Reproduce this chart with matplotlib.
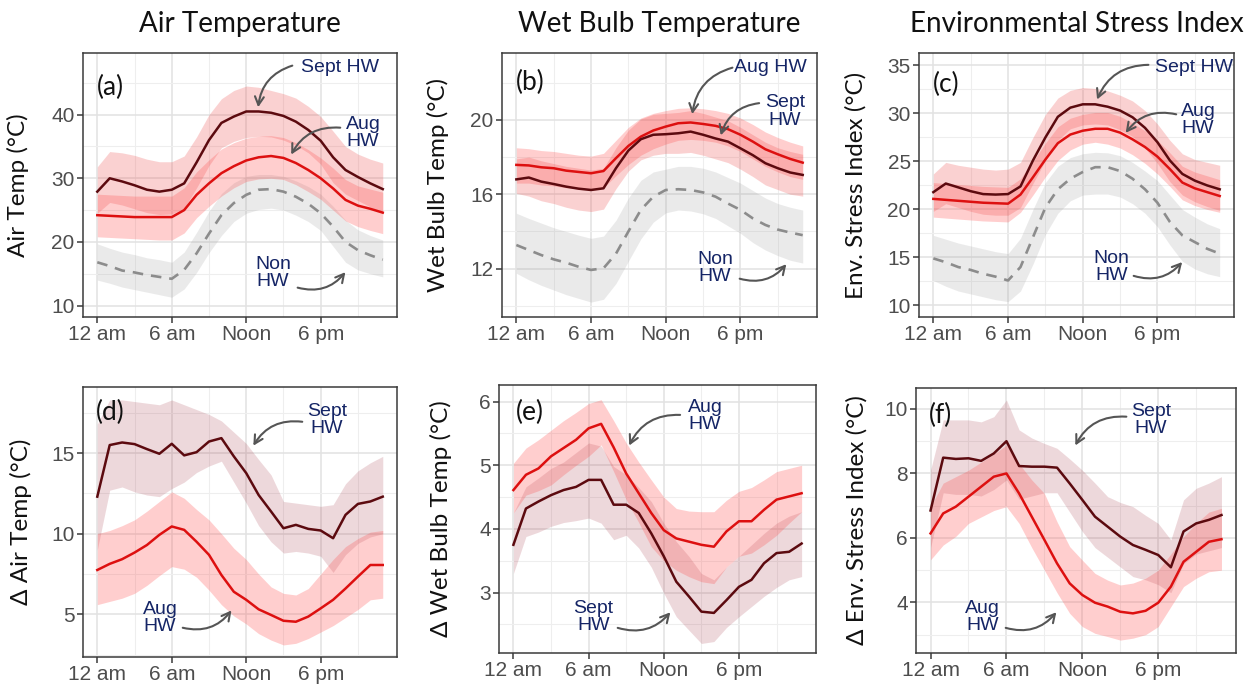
import matplotlib
matplotlib.use("Agg")
import matplotlib.pyplot as plt
from matplotlib.ticker import MultipleLocator, FixedLocator

# ---------------- data (hourly, 0..23) ----------------
hours = list(range(24))
xtick_pos = [0, 6, 12, 18]
xtick_labels = ["12 am", "6 am", "Noon", "6 pm"]

col_titles = ["Air Temperature", "Wet Bulb Temperature", "Environmental Stress Index"]
ylabels = ["Air Temp (°C)", "Wet Bulb Temp (°C)", "Env. Stress Index (°C)",
           "Δ Air Temp (°C)", "Δ Wet Bulb Temp (°C)", "Δ Env. Stress Index (°C)"]
panel_tags = ["(a)", "(b)", "(c)", "(d)", "(e)", "(f)"]

# (a) Air temperature
a_sept = [27.9, 30.0, 29.5, 28.9, 28.2, 27.9, 28.2, 29.2, 32.5, 36.0, 38.7, 39.7, 40.5, 40.5, 40.3, 39.8, 38.9, 37.6, 35.9, 33.3, 31.3, 30.2, 29.2, 28.3]
a_sept_hi = [31.8, 34.2, 34.0, 33.6, 33.0, 32.6, 32.6, 33.5, 36.5, 40.0, 42.5, 43.8, 44.5, 44.3, 43.8, 43.3, 42.6, 41.3, 39.7, 37.4, 35.0, 33.8, 33.0, 32.4]
a_sept_lo = [24.5, 26.2, 25.8, 25.2, 24.6, 24.3, 24.4, 25.3, 28.5, 32.0, 34.8, 35.8, 36.4, 36.6, 36.5, 36.0, 35.2, 34.0, 32.2, 29.3, 27.5, 26.5, 25.5, 24.5]
a_aug = [24.2, 24.1, 24.0, 23.9, 23.9, 23.9, 23.9, 25.0, 27.4, 29.2, 30.8, 31.9, 32.8, 33.3, 33.5, 33.2, 32.4, 31.3, 30.0, 28.4, 26.6, 25.7, 25.2, 24.6]
a_aug_hi = [27.5, 27.4, 27.3, 27.2, 27.2, 27.2, 27.2, 28.5, 31.0, 32.9, 34.6, 35.6, 36.3, 36.6, 36.7, 36.4, 35.6, 34.5, 33.2, 31.6, 29.8, 28.8, 28.3, 27.8]
a_aug_lo = [20.8, 20.7, 20.6, 20.5, 20.4, 20.3, 20.3, 21.4, 23.8, 25.6, 27.2, 28.5, 29.5, 29.9, 30.0, 29.8, 29.0, 27.9, 26.7, 25.0, 23.3, 22.4, 21.8, 21.3]
a_non = [16.8, 16.2, 15.5, 15.2, 14.8, 14.5, 14.2, 15.6, 18.2, 21.3, 24.2, 26.1, 27.4, 28.2, 28.3, 27.9, 27.1, 26.0, 24.5, 22.4, 20.0, 18.7, 17.9, 17.2]
a_non_hi = [19.7, 19.0, 18.4, 18.0, 17.5, 17.2, 16.8, 18.4, 21.5, 24.8, 27.6, 29.3, 30.3, 30.6, 30.6, 30.3, 29.6, 28.7, 27.5, 25.6, 23.4, 21.9, 21.0, 20.3]
a_non_lo = [14.0, 13.5, 12.9, 12.5, 12.1, 11.7, 11.3, 12.6, 15.2, 18.3, 21.0, 23.2, 24.5, 25.1, 25.3, 25.0, 24.2, 23.2, 21.8, 19.3, 16.8, 15.6, 15.0, 14.5]

# (b) Wet bulb temperature
b_aug = [17.58, 17.55, 17.45, 17.4, 17.27, 17.2, 17.13, 17.25, 17.94, 18.6, 19.1, 19.43, 19.64, 19.82, 19.86, 19.78, 19.68, 19.5, 19.2, 18.83, 18.42, 18.15, 17.9, 17.7]
b_aug_hi = [18.5, 18.45, 18.35, 18.3, 18.2, 18.1, 18.05, 18.2, 18.9, 19.6, 20.1, 20.35, 20.5, 20.62, 20.65, 20.6, 20.5, 20.35, 20.1, 19.75, 19.35, 19.05, 18.8, 18.6]
b_aug_lo = [16.6, 16.6, 16.5, 16.45, 16.35, 16.3, 16.25, 16.35, 17.0, 17.6, 18.1, 18.45, 18.7, 18.9, 18.95, 18.9, 18.8, 18.6, 18.3, 17.9, 17.5, 17.2, 16.95, 16.8]
b_sept = [16.8, 16.9, 16.68, 16.55, 16.41, 16.3, 16.23, 16.32, 17.4, 18.35, 18.96, 19.2, 19.23, 19.28, 19.37, 19.2, 19.0, 18.83, 18.47, 18.1, 17.67, 17.4, 17.17, 17.04]
b_sept_hi = [17.9, 18.0, 17.8, 17.65, 17.5, 17.4, 17.3, 17.4, 18.5, 19.45, 20.05, 20.3, 20.35, 20.4, 20.5, 20.35, 20.15, 19.95, 19.6, 19.2, 18.8, 18.5, 18.3, 18.15]
b_sept_lo = [16.05, 15.9, 15.65, 15.5, 15.3, 15.15, 15.07, 15.2, 16.3, 17.25, 17.85, 18.1, 18.2, 18.2, 18.25, 18.1, 17.9, 17.7, 17.35, 16.95, 16.5, 16.25, 16.0, 15.9]
b_non = [13.27, 13.0, 12.73, 12.5, 12.32, 12.1, 11.93, 12.02, 12.8, 14.0, 15.16, 15.87, 16.23, 16.27, 16.23, 16.1, 15.87, 15.5, 15.16, 14.7, 14.35, 14.1, 13.94, 13.8]
b_non_hi = [14.98, 14.7, 14.45, 14.2, 14.0, 13.8, 13.63, 13.75, 14.6, 15.8, 16.75, 17.2, 17.35, 17.5, 17.5, 17.4, 17.2, 16.9, 16.6, 16.2, 15.8, 15.5, 15.3, 15.15]
b_non_lo = [11.75, 11.4, 11.1, 10.85, 10.6, 10.4, 10.2, 10.35, 11.2, 12.4, 13.6, 14.5, 15.0, 15.15, 15.1, 14.95, 14.7, 14.3, 13.9, 13.4, 13.0, 12.7, 12.45, 12.3]

# (c) Environmental stress index
c_sept = [21.8, 22.7, 22.3, 21.9, 21.6, 21.55, 21.6, 22.4, 25.1, 27.5, 29.65, 30.6, 30.95, 30.95, 30.7, 30.3, 29.6, 28.5, 27.0, 25.1, 23.7, 23.0, 22.5, 22.1]
c_sept_hi = [23.7, 24.9, 24.6, 24.4, 24.2, 24.1, 24.2, 24.9, 27.5, 29.9, 31.6, 32.4, 32.7, 32.6, 32.35, 31.9, 31.3, 30.3, 28.9, 27.2, 25.8, 25.2, 24.9, 24.6]
c_sept_lo = [19.8, 20.6, 20.2, 19.8, 19.5, 19.4, 19.4, 20.2, 22.7, 25.1, 27.2, 28.4, 28.8, 28.9, 28.8, 28.3, 27.6, 26.4, 24.8, 22.9, 21.5, 20.8, 20.3, 19.9]
c_aug = [21.1, 21.0, 20.9, 20.8, 20.7, 20.65, 20.6, 21.55, 23.35, 25.2, 26.9, 27.8, 28.2, 28.4, 28.4, 28.0, 27.3, 26.5, 25.5, 24.2, 22.8, 22.2, 21.8, 21.4]
c_aug_hi = [22.8, 22.7, 22.6, 22.5, 22.4, 22.35, 22.3, 23.2, 25.0, 26.9, 28.6, 29.5, 29.9, 30.1, 30.1, 29.7, 29.0, 28.2, 27.2, 25.9, 24.5, 23.9, 23.5, 23.1]
c_aug_lo = [19.2, 19.1, 19.0, 18.9, 18.8, 18.75, 18.7, 19.7, 21.5, 23.4, 25.1, 26.2, 26.8, 27.0, 26.8, 26.4, 25.7, 24.8, 23.7, 22.4, 21.0, 20.4, 20.0, 19.7]
c_non = [14.9, 14.5, 14.0, 13.7, 13.3, 13.0, 12.6, 14.0, 17.1, 20.2, 22.1, 23.2, 23.9, 24.4, 24.4, 24.0, 23.2, 22.1, 20.7, 18.7, 17.3, 16.6, 15.9, 15.4]
c_non_hi = [17.3, 16.9, 16.5, 16.2, 15.9, 15.6, 15.4, 17.0, 20.0, 22.8, 24.5, 25.4, 25.8, 25.95, 25.9, 25.6, 24.9, 24.0, 23.0, 21.5, 20.0, 19.2, 18.5, 18.0]
c_non_lo = [12.6, 12.0, 11.5, 11.2, 10.9, 10.6, 10.4, 11.5, 14.3, 17.4, 19.6, 20.9, 21.5, 21.6, 21.6, 21.3, 20.6, 19.6, 18.2, 16.3, 14.6, 13.8, 13.3, 13.0]

# (d) Delta air temperature
d_sept = [12.3, 15.5, 15.66, 15.56, 15.25, 14.96, 15.58, 14.86, 15.06, 15.72, 15.93, 14.8, 13.76, 12.4, 11.38, 10.34, 10.55, 10.3, 10.2, 9.72, 11.17, 11.85, 12.0, 12.3]
d_sept_hi = [16.8, 18.3, 18.3, 18.2, 18.1, 18.0, 18.3, 18.0, 17.7, 17.4, 17.0, 16.3, 15.6, 14.6, 13.65, 12.0, 11.9, 11.8, 11.7, 11.8, 13.1, 13.9, 14.4, 14.8]
d_sept_lo = [9.0, 12.7, 12.9, 12.6, 12.4, 12.3, 12.8, 13.2, 13.8, 14.2, 14.5, 13.2, 11.9, 10.5, 9.5, 8.8, 8.9, 8.8, 8.6, 7.6, 8.7, 9.4, 9.8, 10.0]
d_aug = [7.75, 8.13, 8.42, 8.83, 9.3, 9.93, 10.45, 10.24, 9.5, 8.69, 7.44, 6.4, 5.9, 5.31, 4.96, 4.6, 4.54, 4.86, 5.37, 5.9, 6.6, 7.34, 8.06, 8.06]
d_aug_hi = [10.0, 10.2, 10.5, 10.86, 11.4, 12.0, 12.6, 12.2, 11.5, 10.86, 10.0, 9.1, 8.4, 7.5, 6.7, 6.3, 6.2, 6.6, 7.5, 8.4, 9.2, 9.7, 10.1, 10.2]
d_aug_lo = [5.6, 5.8, 6.0, 6.3, 6.8, 7.4, 7.96, 7.8, 7.3, 6.5, 5.6, 4.9, 4.4, 3.8, 3.4, 3.1, 3.2, 3.5, 3.9, 4.3, 4.8, 5.3, 5.9, 6.0]

# (e) Delta wet bulb temperature
e_aug = [4.61, 4.85, 4.95, 5.14, 5.27, 5.4, 5.58, 5.65, 5.28, 4.87, 4.56, 4.25, 3.98, 3.85, 3.8, 3.75, 3.72, 3.96, 4.12, 4.12, 4.3, 4.46, 4.51, 4.56]
e_aug_hi = [5.03, 5.27, 5.4, 5.55, 5.7, 5.83, 5.97, 6.03, 5.7, 5.35, 5.05, 4.77, 4.5, 4.32, 4.28, 4.27, 4.27, 4.45, 4.59, 4.65, 4.77, 4.9, 4.95, 5.0]
e_aug_lo = [4.25, 4.53, 4.6, 4.69, 4.85, 5.0, 5.14, 5.32, 4.9, 4.46, 4.1, 3.72, 3.5, 3.35, 3.25, 3.17, 3.14, 3.4, 3.57, 3.62, 3.75, 3.9, 4.09, 4.27]
e_sept = [3.75, 4.32, 4.43, 4.53, 4.61, 4.66, 4.77, 4.77, 4.38, 4.38, 4.25, 3.93, 3.57, 3.17, 2.94, 2.7, 2.68, 2.88, 3.09, 3.2, 3.46, 3.62, 3.64, 3.77]
e_sept_hi = [4.25, 4.66, 4.8, 4.95, 5.05, 5.2, 5.35, 5.3, 4.98, 4.85, 4.65, 4.43, 4.09, 3.8, 3.57, 3.3, 3.2, 3.4, 3.57, 3.75, 3.93, 4.09, 4.2, 4.27]
e_sept_lo = [3.3, 3.88, 3.95, 4.04, 4.1, 4.13, 4.17, 4.09, 3.83, 3.9, 3.7, 3.4, 2.99, 2.62, 2.41, 2.2, 2.23, 2.45, 2.62, 2.78, 2.94, 3.08, 3.2, 3.25]

# (f) Delta environmental stress index
f_sept = [6.85, 8.49, 8.45, 8.47, 8.39, 8.62, 9.0, 8.23, 8.21, 8.21, 8.18, 7.69, 7.18, 6.66, 6.35, 6.04, 5.78, 5.63, 5.47, 5.09, 6.2, 6.45, 6.56, 6.71]
f_sept_hi = [8.1, 9.66, 9.66, 9.66, 9.6, 9.76, 10.28, 9.35, 9.1, 8.93, 8.78, 8.45, 8.1, 7.7, 7.28, 7.1, 6.97, 6.7, 6.45, 5.94, 7.18, 7.54, 7.7, 7.9]
f_sept_lo = [5.7, 7.4, 7.35, 7.35, 7.3, 7.5, 7.8, 7.2, 7.3, 7.4, 7.4, 6.8, 6.2, 5.7, 5.4, 5.1, 4.8, 4.7, 4.55, 4.3, 5.2, 5.5, 5.6, 5.7]
f_aug = [6.14, 6.76, 6.97, 7.28, 7.59, 7.9, 8.0, 7.38, 6.66, 5.94, 5.21, 4.59, 4.23, 3.99, 3.87, 3.71, 3.66, 3.74, 3.99, 4.49, 5.26, 5.57, 5.88, 5.96]
f_aug_hi = [6.97, 7.7, 7.9, 8.1, 8.35, 8.6, 8.88, 8.3, 7.8, 7.38, 6.5, 5.73, 5.31, 4.9, 4.69, 4.54, 4.6, 4.75, 5.0, 5.5, 6.04, 6.45, 6.8, 6.92]
f_aug_lo = [5.32, 5.78, 6.05, 6.45, 6.65, 6.85, 6.97, 6.45, 5.7, 5.0, 4.3, 3.66, 3.25, 3.04, 2.94, 2.83, 2.89, 3.0, 3.25, 3.87, 4.49, 4.75, 4.95, 5.0]

# ---------------- style ----------------
SEPT = "#5c0a0f"
AUG = "#dd1010"
NON = "#8c8c8c"
NAVY = "#152566"
ARROW = "#555555"
TICKFONT = "Liberation Sans"
LABFONT = "Lato"

fig = plt.figure(figsize=(12.56, 6.93), dpi=100)

positions = [
    [0.0661, 0.5426, 0.2500, 0.3810],
    [0.3997, 0.5426, 0.2508, 0.3810],
    [0.7317, 0.5426, 0.2508, 0.3810],
    [0.0661, 0.0519, 0.2500, 0.3896],
    [0.3973, 0.0577, 0.2524, 0.3867],
    [0.7293, 0.0577, 0.2548, 0.3824],
]
ylims = [(8.2, 49.7), (9.4, 23.6), (8.8, 36.3), (2.35, 19.1), (2.05, 6.26), (2.43, 10.65)]
ymajor = [10, 4, 5, 5, 1, 2]
ylab_x = [-0.172, -0.168, -0.168, -0.162, -0.148, -0.15]
tag_pos = [(0.086, 0.87), (0.089, 0.89), (0.086, 0.879), (0.086, 0.904), (0.098, 0.896), (0.078, 0.898)]

axes = []
for i, pos in enumerate(positions):
    ax = fig.add_axes(pos)
    ax.set_xlim(-1.15, 24.15)
    ax.set_ylim(*ylims[i])
    ax.xaxis.set_major_locator(FixedLocator(xtick_pos))
    ax.xaxis.set_minor_locator(FixedLocator([3, 9, 15, 21]))
    ax.set_xticks(xtick_pos)
    ax.set_xticklabels(xtick_labels)
    ax.yaxis.set_major_locator(MultipleLocator(ymajor[i]))
    ax.yaxis.set_minor_locator(MultipleLocator(ymajor[i] / 2))
    ax.grid(which="major", color="#e2e2e2", lw=1.1, zorder=0)
    ax.grid(which="minor", color="#eeeeee", lw=0.8, zorder=0)
    ax.set_axisbelow(True)
    for s in ax.spines.values():
        s.set_color("#3a3a3a")
        s.set_linewidth(1.1)
    ax.tick_params(which="major", length=4, width=1.1, color="#3a3a3a",
                   labelsize=15, labelcolor="#4d4d4d", pad=2)
    ax.tick_params(which="minor", length=0)
    for lab in ax.get_xticklabels() + ax.get_yticklabels():
        lab.set_fontfamily(TICKFONT)
    ax.set_ylabel(ylabels[i], fontsize=17.5, family=LABFONT, color="#111111")
    ax.yaxis.set_label_coords(ylab_x[i], 0.5)
    ax.text(tag_pos[i][0], tag_pos[i][1], panel_tags[i], transform=ax.transAxes,
            ha="center", va="center", fontsize=19, family=LABFONT, color="#111111")
    axes.append(ax)

for j, t in enumerate(col_titles):
    p = positions[j]
    fig.text(p[0] + p[2] / 2, 0.954, t, ha="center", va="baseline",
             fontsize=20, family=LABFONT, color="#111111")


def ribbon(ax, lo, hi, color, alpha):
    ax.fill_between(hours, lo, hi, color=color, alpha=alpha, lw=0, zorder=2)


def line(ax, y, color, dashed=False):
    if dashed:
        ax.plot(hours, y, color=color, lw=1.9, ls=(0, (4, 3)), zorder=3)
    else:
        ax.plot(hours, y, color=color, lw=1.8, zorder=3)


def label(ax, txt, xy_text, start, end, rad=0.35):
    ax.text(xy_text[0], xy_text[1], txt, transform=ax.transAxes, ha="center",
            va="center", fontsize=14, family=TICKFONT, color=NAVY,
            linespacing=1.05, zorder=5)
    ax.annotate("", xy=end, xytext=start, xycoords="axes fraction",
                textcoords="axes fraction",
                arrowprops=dict(arrowstyle="->,head_length=0.6,head_width=0.32",
                                color=ARROW, lw=1.5,
                                connectionstyle=f"arc3,rad={rad}"), zorder=5)


# top row
top = [(a_non, a_non_lo, a_non_hi, a_aug, a_aug_lo, a_aug_hi, a_sept, a_sept_lo, a_sept_hi),
       (b_non, b_non_lo, b_non_hi, b_aug, b_aug_lo, b_aug_hi, b_sept, b_sept_lo, b_sept_hi),
       (c_non, c_non_lo, c_non_hi, c_aug, c_aug_lo, c_aug_hi, c_sept, c_sept_lo, c_sept_hi)]
for ax, (n, nl, nh, a, al, ah, s, sl, sh) in zip(axes[:3], top):
    ribbon(ax, nl, nh, "#9a9a9a", 0.2)
    ribbon(ax, sl, sh, "#ee4a4a", 0.25)
    ribbon(ax, al, ah, "#ff4d4d", 0.27)
    line(ax, n, NON, dashed=True)
    line(ax, a, AUG)
    line(ax, s, SEPT)

bottom = [(d_aug, d_aug_lo, d_aug_hi, d_sept, d_sept_lo, d_sept_hi),
          (e_aug, e_aug_lo, e_aug_hi, e_sept, e_sept_lo, e_sept_hi),
          (f_aug, f_aug_lo, f_aug_hi, f_sept, f_sept_lo, f_sept_hi)]
for ax, (a, al, ah, s, sl, sh) in zip(axes[3:], bottom):
    ribbon(ax, sl, sh, "#a02a3c", 0.18)
    ribbon(ax, al, ah, "#ff4d4d", 0.27)
    line(ax, a, AUG)
    line(ax, s, SEPT)

# annotations
A = axes
label(A[0], "Sept HW", (0.818, 0.943), (0.675, 0.955), (0.557, 0.784))
label(A[0], "Aug\nHW", (0.892, 0.697), (0.828, 0.716), (0.659, 0.606))
label(A[0], "Non\nHW", (0.605, 0.167), (0.675, 0.114), (0.841, 0.178))

label(A[1], "Aug HW", (0.851, 0.943), (0.740, 0.947), (0.603, 0.758))
label(A[1], "Sept\nHW", (0.898, 0.777), (0.825, 0.811), (0.692, 0.678))
label(A[1], "Non\nHW", (0.676, 0.186), (0.746, 0.148), (0.908, 0.208))

label(A[2], "Sept HW", (0.873, 0.943), (0.737, 0.955), (0.562, 0.814))
label(A[2], "Aug\nHW", (0.886, 0.746), (0.825, 0.765), (0.651, 0.689))
label(A[2], "Non\nHW", (0.610, 0.189), (0.673, 0.159), (0.841, 0.216))

label(A[3], "Sept\nHW", (0.777, 0.878), (0.707, 0.870), (0.538, 0.774))
label(A[3], "Aug\nHW", (0.245, 0.144), (0.309, 0.111), (0.478, 0.181))

label(A[4], "Aug\nHW", (0.650, 0.884), (0.580, 0.888), (0.407, 0.765))
label(A[4], "Sept\nHW", (0.297, 0.134), (0.366, 0.097), (0.546, 0.160))

label(A[5], "Sept\nHW", (0.734, 0.879), (0.666, 0.891), (0.494, 0.774))
label(A[5], "Aug\nHW", (0.209, 0.136), (0.272, 0.098), (0.444, 0.162))

fig.savefig("out.png", dpi=100, facecolor="white")
